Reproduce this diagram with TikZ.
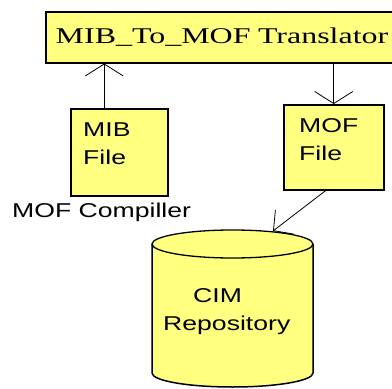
\documentclass[tikz,border=0pt]{standalone}
\usepackage{fontspec}
\setmainfont{Liberation Serif}
\newfontfamily\lsans[FakeStretch=1.33]{Liberation Sans}
\newfontfamily\lserif[FakeStretch=1.42]{Liberation Serif}
\usetikzlibrary{arrows.meta}
\definecolor{boxyellow}{RGB}{255,255,128}
\tikzset{
  box/.style={draw=black, line width=1.5pt, fill=boxyellow},
  lbl/.style={font=\lsans\fontsize{20}{28}\selectfont, align=left, inner sep=0pt},
  conn/.style={line width=1.2pt, -{Straight Barb[length=12pt,width=38pt,line width=0.8pt]}},
  thin conn/.style={line width=0.8pt, -{Straight Barb[length=14pt,width=30pt,line width=0.8pt]}}
}
\begin{document}
\begin{tikzpicture}[x=1pt,y=1pt]
\useasboundingbox (0,0) rectangle (392,-389);
% top translator box
\node[box, anchor=north west, minimum height=51pt, text width=340pt, inner xsep=10pt, align=left,
      font=\lserif\fontsize{22.5}{26}\selectfont] (trans) at (45,-11) {MIB\_To\_MOF Translator};
% files
\node[box, anchor=north west, minimum width=97pt, minimum height=87pt] (mib) at (70,-108) {};
\node[lbl, anchor=north west] (mibtxt) at (83,-123) {MIB\\File};
\node[box, anchor=north west, minimum width=100pt, minimum height=85pt] (mof) at (283,-104) {};
\node[lbl, anchor=north west] (moftxt) at (299,-118) {MOF\\File};
\node[lbl, anchor=west] (comp) at (12,-212) {MOF Compiller};
% cylinder
\fill[boxyellow] (152,-244) -- (152,-373) arc[start angle=180,end angle=360,x radius=80.5,y radius=14] -- (313,-244) -- cycle;
\draw[line width=1.5pt] (152,-244) -- (152,-373) arc[start angle=180,end angle=360,x radius=80.5,y radius=14] -- (313,-244);
\filldraw[fill=boxyellow, draw=black, line width=1.3pt] (232.5,-244) ellipse [x radius=80.5, y radius=14];
\coordinate (cyltop) at (273,-231);
\node[lbl, anchor=north west] (cimtxt) at (163,-288) {\hspace*{30pt}CIM\\Repository};
% connectors
\coordinate (mibtop) at ([xshift=-15pt]mib.north);
\draw[conn] (mibtop) -- (trans.south -| mibtop);
\draw[conn] (trans.south -| mof.north) -- (mof.north);
\draw[thin conn] ([xshift=-8pt]mof.south) -- (cyltop);
\end{tikzpicture}
\end{document}
